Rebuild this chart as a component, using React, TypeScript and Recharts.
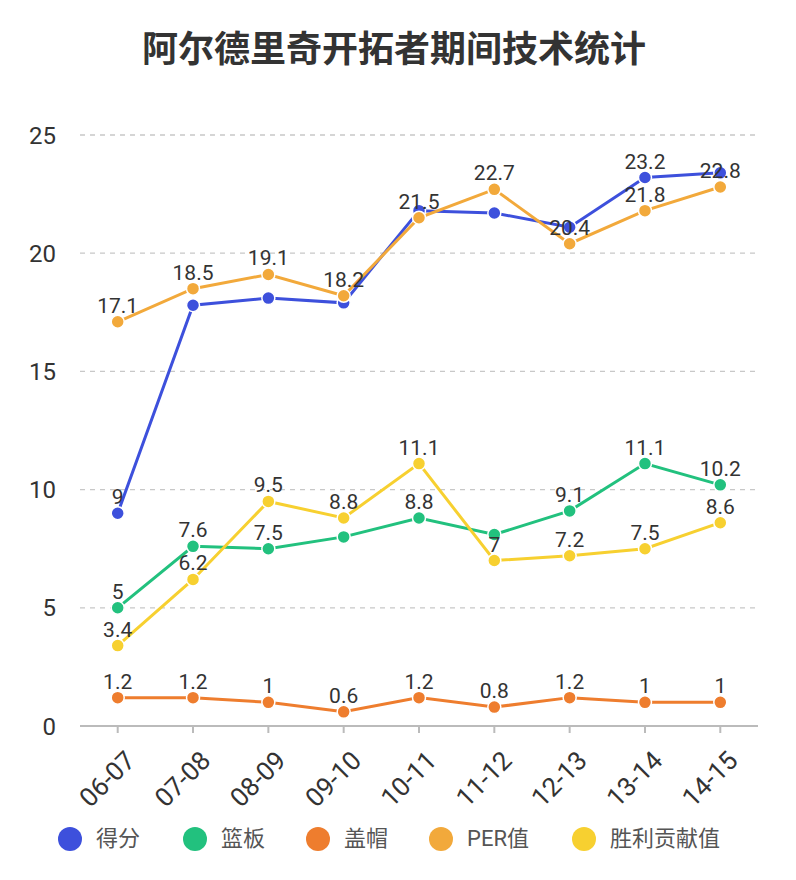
import React from 'react';
import { LineChart, Line, XAxis, YAxis, CartesianGrid, LabelList } from 'recharts';

const seasons = ['06-07', '07-08', '08-09', '09-10', '10-11', '11-12', '12-13', '13-14', '14-15'];
const points = [9, 17.8, 18.1, 17.9, 21.8, 21.7, 21.1, 23.2, 23.4];
const rebounds = [5, 7.6, 7.5, 8.0, 8.8, 8.1, 9.1, 11.1, 10.2];
const blocks = [1.2, 1.2, 1, 0.6, 1.2, 0.8, 1.2, 1, 1];
const per = [17.1, 18.5, 19.1, 18.2, 21.5, 22.7, 20.4, 21.8, 22.8];
const winShares = [3.4, 6.2, 9.5, 8.8, 11.1, 7, 7.2, 7.5, 8.6];
const yTicks = [0, 5, 10, 15, 20, 25];

// labels the original hides because they overlap others
const hiddenPoints = [1, 2, 3, 4, 5, 6, 8];
const hiddenRebounds = [3, 5];

const series = [
  { key: 'points', name: '得分', color: '#3d50dc', hidden: hiddenPoints },
  { key: 'rebounds', name: '篮板', color: '#22c17e', hidden: hiddenRebounds },
  { key: 'blocks', name: '盖帽', color: '#ee7d2e', hidden: [] as number[] },
  { key: 'per', name: 'PER值', color: '#f2a93b', hidden: [] as number[] },
  { key: 'winShares', name: '胜利贡献值', color: '#f7d030', hidden: [] as number[] },
];

const data = seasons.map((season, i) => ({
  season,
  points: points[i],
  rebounds: rebounds[i],
  blocks: blocks[i],
  per: per[i],
  winShares: winShares[i],
}));

const FONT = 'Roboto, "Noto Sans CJK SC", sans-serif';

const XTick = (props: any) => {
  const { x, y, payload } = props;
  return (
    <g transform={`translate(${x + 6},${y + 14})`}>
      <text x={0} y={0} dy="0.71em" textAnchor="end" transform="rotate(-45)" fill="#333" fontSize={26} fontFamily={FONT}>
        {payload.value}
      </text>
    </g>
  );
};

const makeLabel = (hidden: number[]) => (props: any) => {
  const { x, y, value, index } = props;
  if (hidden.includes(index)) return null;
  return (
    <text x={x} y={y - 9} textAnchor="middle" fill="#333" fontSize={21} fontFamily={FONT}>
      {value}
    </text>
  );
};

export default function App() {
  return (
    <div style={{ position: 'absolute', left: 0, top: 0, width: 796, height: 880, background: '#fff', fontFamily: FONT }}>
      <div
        style={{
          position: 'absolute',
          top: 27,
          left: 0,
          width: 788,
          textAlign: 'center',
          fontSize: 36,
          fontWeight: 'bold',
          color: '#333',
          lineHeight: '46px',
        }}
      >
        阿尔德里奇开拓者期间技术统计
      </div>
      <LineChart width={796} height={880} data={data} margin={{ top: 135, right: 38, left: 0, bottom: 0 }}>
        <CartesianGrid vertical={false} stroke="#c8c8c8" strokeWidth={1.3} strokeDasharray="5 5" />
        <XAxis
          dataKey="season"
          height={154}
          interval={0}
          padding={{ left: 37.7, right: 37.7 }}
          stroke="#bbb"
          strokeWidth={2}
          tickSize={7}
          tick={<XTick />}
        />
        <YAxis
          width={80}
          domain={[0, 25]}
          ticks={yTicks}
          axisLine={false}
          tickLine={false}
          tickSize={0}
          tickMargin={24}
          tick={{ fill: '#333', fontSize: 24, fontFamily: FONT }}
        />
        {series.map((s) => (
          <Line
            key={s.key}
            dataKey={s.key}
            name={s.name}
            stroke={s.color}
            strokeWidth={3}
            isAnimationActive={false}
            dot={{ r: 6.5, fill: s.color, stroke: '#fff', strokeWidth: 1.5 }}
          >
            <LabelList dataKey={s.key} content={makeLabel(s.hidden)} />
          </Line>
        ))}
      </LineChart>
      <div style={{ position: 'absolute', top: 826, left: 0, width: 796, height: 26 }}>
        {series.map((s, i) => {
          const lefts = [58, 183, 306, 429, 572];
          return (
            <div key={s.key} style={{ position: 'absolute', left: lefts[i], top: 0, display: 'flex', alignItems: 'center' }}>
              <span style={{ width: 24, height: 24, borderRadius: 12, background: s.color, display: 'inline-block' }} />
              <span style={{ marginLeft: 14, fontSize: 22, color: '#555', lineHeight: '26px' }}>{s.name}</span>
            </div>
          );
        })}
      </div>
    </div>
  );
}
